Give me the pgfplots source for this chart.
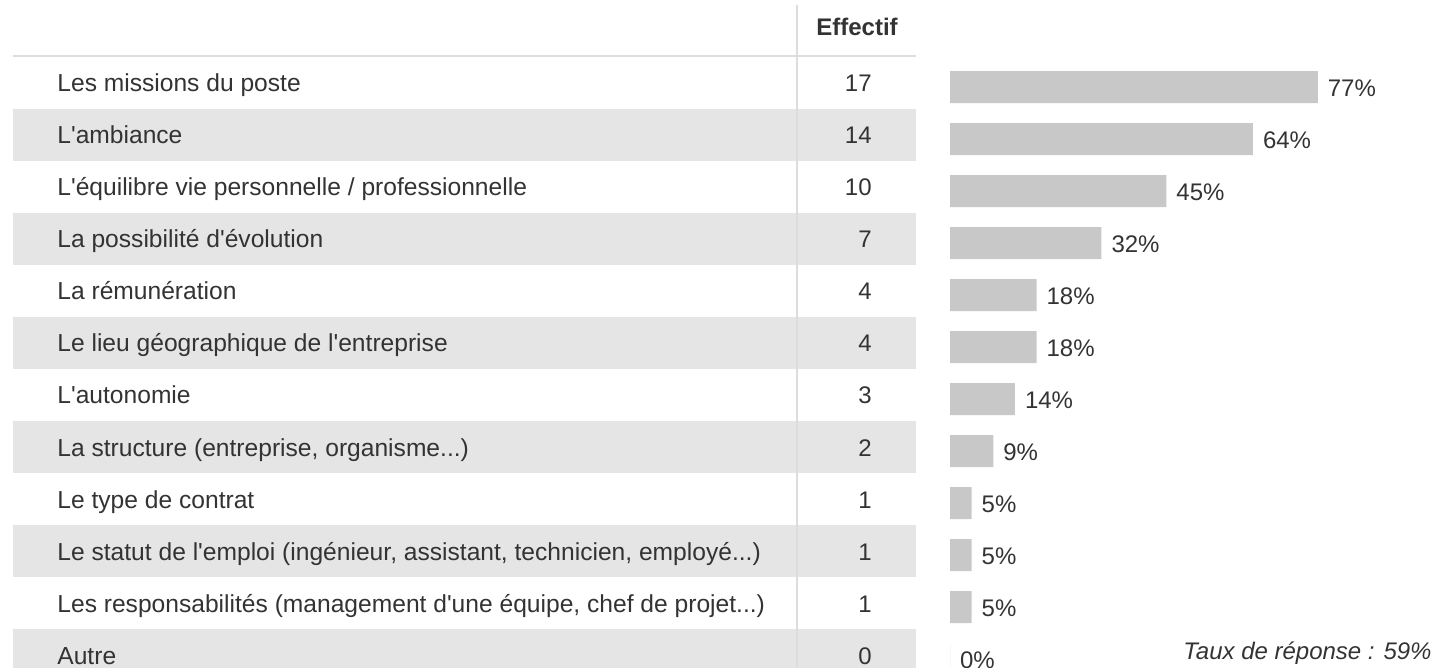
\documentclass[border=0pt]{standalone}
\usepackage{fontspec}
\setmainfont{Liberation Sans}[Ligatures=TeXOff]
\usepackage{pgfplots}
\pgfplotsset{compat=1.18}
\definecolor{txt}{HTML}{333333}
\definecolor{stripe}{HTML}{E5E5E5}
\definecolor{barc}{HTML}{C8C8C8}
\definecolor{linec}{HTML}{DDDDDD}
\newcommand{\tf}{\fontsize{12}{14}\selectfont}
\newcommand{\lf}{\fontsize{12.3}{14}\selectfont}
\begin{document}
\begin{tikzpicture}
\useasboundingbox (0,0) rectangle (718pt,-334pt);
\clip (0,0) rectangle (718pt,-334pt);
\begin{scope}[x=0.5pt,y=-0.5pt]
  \foreach \t in {109,213,317,421,525,629} \fill[stripe] (13,\t) rectangle (916,\t+52);
  \draw[linec, line width=1pt] (13,56) -- (916,56);
  \draw[linec, line width=0.8pt] (797,5) -- (797,668);
  \node[anchor=base, font=\tf\bfseries, text=txt, inner sep=0pt] at (857,36) {Effectif};
  \foreach \lab/\n [count=\k from 0] in {
    {Les missions du poste}/17,
    {L'ambiance}/14,
    {L'équilibre vie personnelle / professionnelle}/10,
    {La possibilité d'évolution}/7,
    {La rémunération}/4,
    {Le lieu géographique de l'entreprise}/4,
    {L'autonomie}/3,
    {La structure (entreprise, organisme...)}/2,
    {Le type de contrat}/1,
    {Le statut de l'emploi (ingénieur, assistant, technicien, employé...)}/1,
    {Les responsabilités (management d'une équipe, chef de projet...)}/1,
    {Autre}/0}
  {
    \node[anchor=base west, font=\lf, text=txt, inner sep=0pt] at (57,92+52*\k) {\lab};
    \node[anchor=base east, font=\tf, text=txt, inner sep=0pt] at (872,92+52*\k) {\n};
  }
  \node[anchor=base east, font=\tf\itshape, text=txt, inner sep=0pt] at (1432,659) {Taux de réponse : 59\%};
\end{scope}
\begin{axis}[
  at={(0,0)}, anchor=north west,
  scale only axis, width=718pt, height=334pt,
  xmin=-199.58, xmax=102.10, ymin=0, ymax=668, y dir=reverse,
  hide axis, clip=false,
  xbar, bar width=16pt,
  point meta=x,
  nodes near coords={\pgfmathprintnumber[fixed,precision=0,assume math mode=true]{\pgfplotspointmeta}\%},
  every node near coord/.append style={font=\tf, text=txt, anchor=west, xshift=1.5pt, yshift=-0.7pt},
]
\addplot[fill=barc, draw=none] coordinates {
  (77.27,87) (63.64,139) (45.45,191) (31.82,243) (18.18,295) (18.18,347)
  (13.64,399) (9.09,451) (4.55,503) (4.55,555) (4.55,607) (0,659)
};
\end{axis}
\end{tikzpicture}
\end{document}
